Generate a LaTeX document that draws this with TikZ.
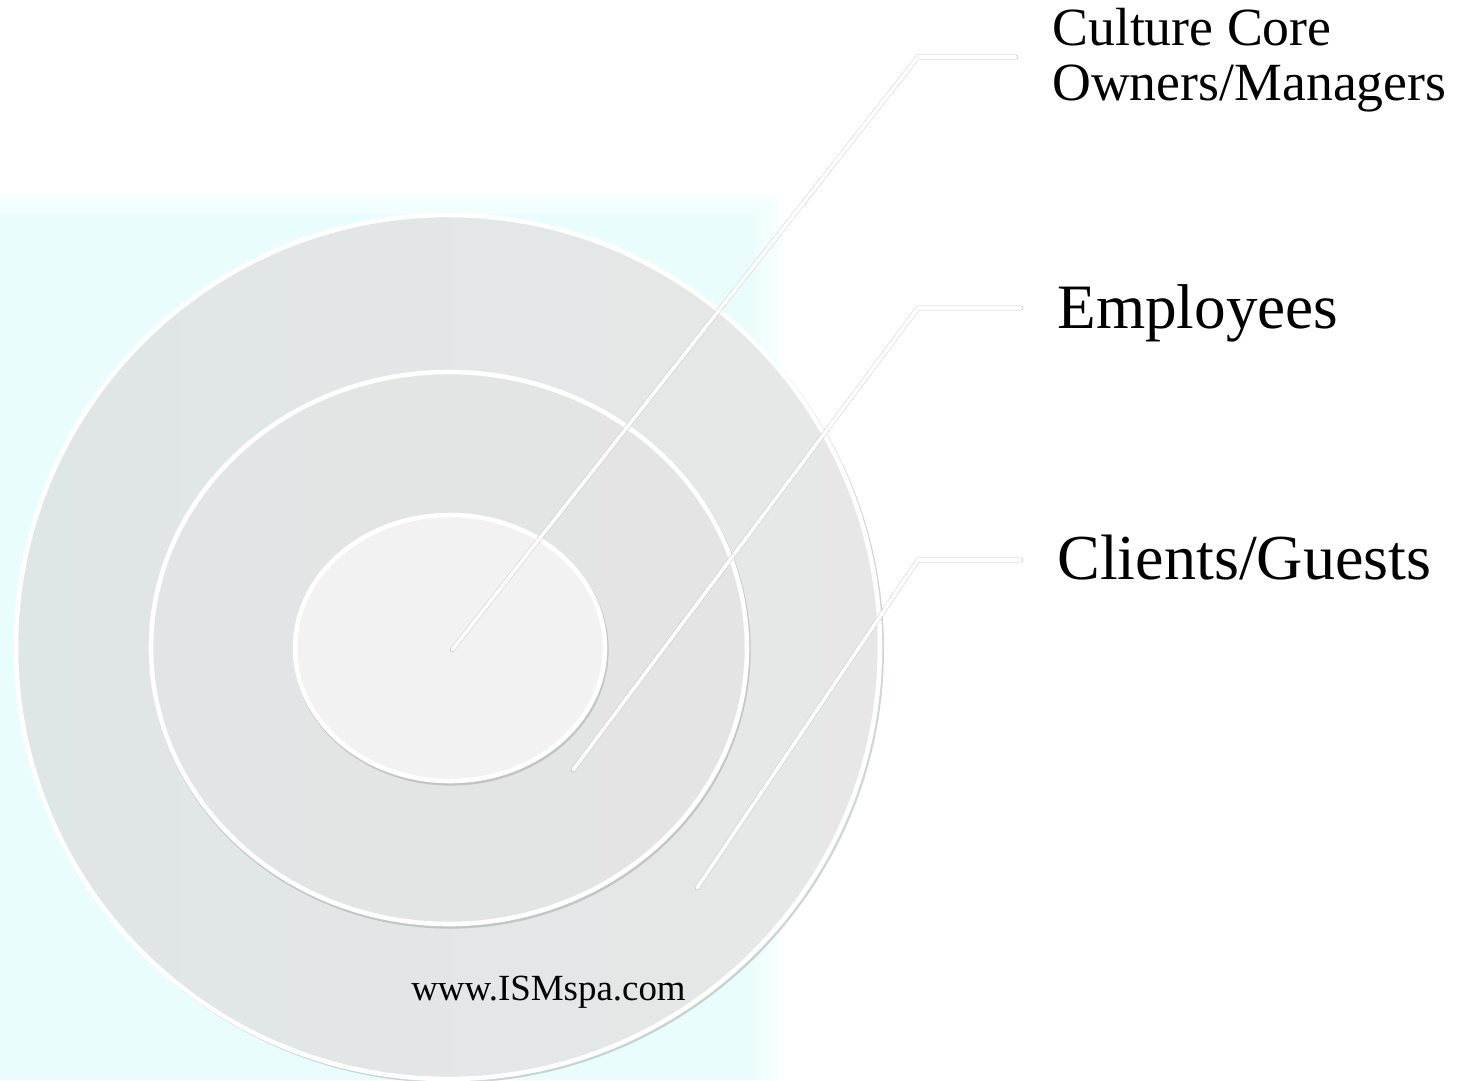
\documentclass[tikz,border=0pt]{standalone}
\usepackage{fontspec}
\setmainfont{Liberation Serif}
\usepackage{tikz}

\definecolor{bgcyan}{RGB}{234,253,253}
\definecolor{ringleft}{RGB}{223,230,230}
\definecolor{ringright}{RGB}{231,231,231}
\definecolor{midleft}{RGB}{226,229,229}
\definecolor{midright}{RGB}{228,228,228}
\definecolor{corefill}{RGB}{242,242,242}
\definecolor{rimshade}{RGB}{170,178,178}

\tikzset{
	rim/.style={white, line width=2.6pt},
	rimshadow/.style={rimshade, line width=3pt, opacity=0.6},
	leader/.style={white, line width=2.2pt, line cap=round, shorten >=0.72cm},
	leadershadow/.style={gray!65, line width=2.6pt, line cap=round, opacity=0.75, xshift=0.04cm, yshift=-0.04cm, shorten >=0.72cm},
	lbl/.style={inner sep=0pt, anchor=base west, align=left}
}

\begin{document}
\begin{tikzpicture}[x=0.02cm, y=-0.02cm]
	
	\useasboundingbox (0,0) rectangle (1468,1080);
	
	\foreach \d in {0,4,...,20}
	{
		\fill[bgcyan, opacity=0.22] (0,193+\d) rectangle (782-\d,1080);
	}
	\fill[bgcyan] (0,215) rectangle (755,1080);
	
	\fill[rimshade, opacity=0.55] (450,649) circle (434);
	\shade[left color=ringleft, right color=ringright] (448,647) circle (432);
	\draw[rim] (448,647) circle (432);
	
	\draw[rimshadow] (450,650) ellipse [x radius=298, y radius=276];
	\shade[left color=midleft, right color=midright] (449,648) ellipse [x radius=298, y radius=276];
	\draw[rim] (449,648) ellipse [x radius=298, y radius=276];
	
	\draw[rimshadow] (451,650) ellipse [x radius=155, y radius=133];
	\fill[corefill] (450,648) ellipse [x radius=155, y radius=133];
	\draw[rim] (450,648) ellipse [x radius=155, y radius=133];
	
	\node[lbl, font=\fontsize{30.6}{31.2}\selectfont] (culture) at (1052,100) {Culture Core\\Owners/Managers};
	\node[lbl, font=\fontsize{36}{40}\selectfont] (employees) at (1057,328) {Employees};
	\node[lbl, font=\fontsize{36.5}{40}\selectfont] (clients) at (1057,579) {Clients/Guests};
	\node[lbl, font=\fontsize{21}{24}\selectfont] (site) at (411,1000) {www.ISMspa.com};
	
	\coordinate (core) at (452,650);
	\coordinate (kneeA) at (918,57);
	\coordinate (staff) at (573,770);
	\coordinate (kneeB) at (918,308);
	\coordinate (guest) at (697,888);
	\coordinate (kneeC) at (918,560);
	
	\foreach \pt/\knee/\txt in {core/kneeA/culture, staff/kneeB/employees, guest/kneeC/clients}
	{
		\draw[leadershadow] (\pt) -- (\knee) -- (\knee -| \txt.west);
		\draw[leader] (\pt) -- (\knee) -- (\knee -| \txt.west);
	}

\end{tikzpicture}
\end{document}
